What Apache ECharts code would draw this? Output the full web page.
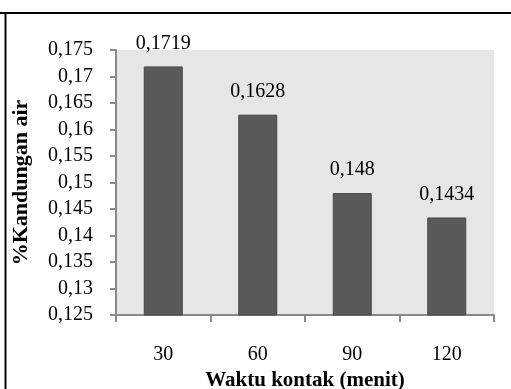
<!DOCTYPE html>
<html>
<head>
<meta charset="utf-8">
<script src="https://cdn.jsdelivr.net/npm/echarts@6/dist/echarts.min.js"></script>
<style>
  html, body { margin: 0; padding: 0; background: #ffffff; }
  #chart { width: 511px; height: 389px; }
</style>
</head>
<body>
<div id="chart"></div>
<script>
// Contact time (minutes) and water content per sample
const categories = ['30', '60', '90', '120'];
const waterContent = [0.1719, 0.1628, 0.148, 0.1434];
const yMin = 0.125, yMax = 0.175, yStep = 0.005;

// Decimal comma, trailing zeros dropped
function fmt(v, digits) {
  let s = Number(v).toFixed(digits);
  if (s.indexOf('.') >= 0) s = s.replace(/0+$/, '').replace(/\.$/, '');
  return s.replace('.', ',');
}

const font = '"Liberation Serif", "Times New Roman", serif';
const axisGray = '#898989';

const chart = echarts.init(document.getElementById('chart'), null, { renderer: 'canvas' });
chart.setOption({
  animation: false,
  backgroundColor: '#ffffff',
  textStyle: { fontFamily: font, color: '#000' },
  grid: {
    left: 116, top: 50, right: 17, bottom: 74,
    containLabel: false,
    outerBoundsMode: 'none',
    show: true, backgroundColor: '#e6e6e6', borderWidth: 0
  },
  xAxis: {
    type: 'category',
    data: categories,
    name: 'Waktu kontak (menit)',
    nameLocation: 'middle',
    nameGap: 48,
    nameTextStyle: { fontFamily: font, fontSize: 21, fontWeight: 'bold', color: '#000' },
    axisLine: { lineStyle: { color: axisGray, width: 2 } },
    axisTick: { show: true, length: 7, lineStyle: { color: axisGray, width: 2 } },
    axisLabel: { margin: 30, fontFamily: font, fontSize: 20, color: '#000' },
    splitLine: { show: false }
  },
  yAxis: {
    type: 'value',
    min: yMin, max: yMax, interval: yStep,
    name: '%Kandungan air',
    nameLocation: 'middle',
    nameGap: 84,
    nameRotate: 90,
    nameTextStyle: { fontFamily: font, fontSize: 22, fontWeight: 'bold', color: '#000' },
    axisLine: { show: true, lineStyle: { color: axisGray, width: 2 } },
    axisTick: { show: true, length: 6, lineStyle: { color: axisGray, width: 2 } },
    axisLabel: {
      margin: 23, fontFamily: font, fontSize: 20, color: '#000',
      formatter: v => fmt(v, 3)
    },
    splitLine: { show: false }
  },
  series: [{
    type: 'bar',
    data: waterContent,
    barWidth: 39,
    itemStyle: { color: '#595959', borderColor: '#474747', borderWidth: 1 },
    label: {
      show: true, position: 'top', distance: 13,
      fontFamily: font, fontSize: 20, color: '#000',
      formatter: p => fmt(p.value, 4)
    }
  }],
  graphic: [
    { type: 'line', shape: { x1: 0, y1: 13, x2: 511, y2: 13 }, style: { stroke: '#000', lineWidth: 2 } },
    { type: 'line', shape: { x1: 5.5, y1: 12, x2: 5.5, y2: 389 }, style: { stroke: '#000', lineWidth: 2 } }
  ]
});
</script>
</body>
</html>
